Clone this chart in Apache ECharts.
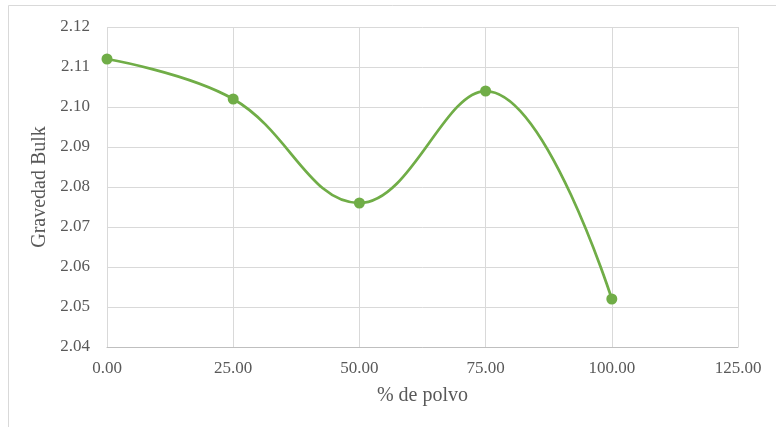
<!DOCTYPE html>
<html>
<head>
<meta charset="utf-8">
<script src="https://cdn.jsdelivr.net/npm/echarts@6/dist/echarts.min.js"></script>
<style>html,body{margin:0;padding:0;background:#fff}#c{width:776px;height:427px}</style>
</head>
<body>
<div id="c"></div>
<script>
const xValues = [0, 25, 50, 75, 100];
const gravedadBulk = [2.112, 2.102, 2.076, 2.104, 2.052];
const xAxisName = '% de polvo';
const yAxisName = 'Gravedad Bulk';

const chart = echarts.init(document.getElementById('c'), null, {renderer: 'canvas'});
const font = '"Liberation Serif", "Times New Roman", serif';
chart.setOption({
  animation: false,
  backgroundColor: '#fff',
  graphic: [{
    type: 'rect', left: 8, top: 5, z: -10,
    shape: {width: 800, height: 460},
    style: {fill: '#fff', stroke: '#d9d9d9', lineWidth: 1}
  }],
  grid: {left: 107, right: 38, top: 27, bottom: 80},
  xAxis: {
    type: 'value', min: 0, max: 125, interval: 25,
    name: xAxisName, nameLocation: 'middle', nameGap: 39,
    nameTextStyle: {fontFamily: font, fontSize: 20, color: '#595959'},
    axisLine: {show: true, lineStyle: {color: '#bfbfbf', width: 1}},
    axisTick: {show: false},
    axisLabel: {fontFamily: font, fontSize: 17, color: '#595959', margin: 13,
      formatter: v => v.toFixed(2)},
    splitLine: {show: true, lineStyle: {color: '#d9d9d9', width: 1}}
  },
  yAxis: {
    type: 'value', min: 2.04, max: 2.12, interval: 0.01,
    name: yAxisName, nameLocation: 'middle', nameGap: 50,
    nameTextStyle: {fontFamily: font, fontSize: 20, color: '#595959'},
    axisLine: {show: false},
    axisTick: {show: false},
    axisLabel: {fontFamily: font, fontSize: 17, color: '#595959', margin: 17,
      formatter: v => v.toFixed(2)},
    splitLine: {show: true, lineStyle: {color: '#d9d9d9', width: 1}}
  },
  series: [{
    type: 'line',
    data: xValues.map((x, i) => [x, gravedadBulk[i]]),
    smooth: 0.4,
    symbol: 'circle', symbolSize: 11,
    lineStyle: {color: '#70ad47', width: 2.75},
    itemStyle: {color: '#70ad47'}
  }]
});
</script>
</body>
</html>
